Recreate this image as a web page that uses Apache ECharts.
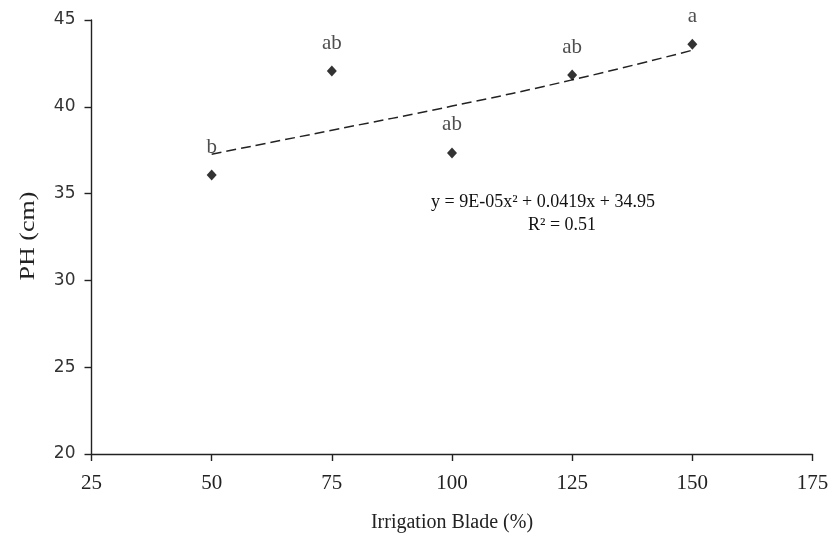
<!DOCTYPE html>
<html>
<head>
<meta charset="utf-8">
<script src="https://cdn.jsdelivr.net/npm/echarts@6/dist/echarts.min.js"></script>
<style>
html,body{margin:0;padding:0;background:#fff;}
#chart{width:832px;height:539px;}
</style>
</head>
<body>
<div id="chart"></div>
<script>
// Data
var irrigation = [50, 75, 100, 125, 150];
var plantHeight = [36.07, 42.06, 37.34, 41.83, 43.6];
var groupLetters = ['b', 'ab', 'ab', 'ab', 'a'];
// Trend line values (as drawn in the picture)
var trendX = [50, 75, 100, 125, 150];
var trendY = [37.27, 38.65, 40.04, 41.55, 43.26];
var xTicks = [25, 50, 75, 100, 125, 150, 175];
var yTicks = [20, 25, 30, 35, 40, 45];
var xTitle = 'Irrigation Blade (%)';
var yTitle = 'PH (cm)';
var equationText = 'y = 9E-05x² + 0.0419x + 34.95';
var r2Text = 'R² = 0.51';

var SERIF = '"Liberation Serif", "Times New Roman", serif';
var SANS = '"DejaVu Sans", "Noto Sans", sans-serif';
var chart = echarts.init(document.getElementById('chart'));

var scatterData = irrigation.map(function (x, i) { return [x, plantHeight[i]]; });
var trendData = trendX.map(function (x, i) { return [x, trendY[i]]; });

var axisCommon = {
  axisLine: { show: true, lineStyle: { color: '#222', width: 1.4 } },
  axisTick: { show: true, length: 7, inside: false, lineStyle: { color: '#222', width: 1.4 } },
  splitLine: { show: false }
};

chart.setOption({
  animation: false,
  backgroundColor: '#fff',
  grid: { left: 91.5, right: 19.5, top: 20, bottom: 85, containLabel: false },
  xAxis: Object.assign({}, axisCommon, {
    type: 'value',
    min: xTicks[0], max: xTicks[xTicks.length - 1], interval: 25,
    name: xTitle,
    nameLocation: 'middle', nameGap: 59,
    nameTextStyle: { fontFamily: SERIF, fontSize: 20, color: '#222' },
    axisLabel: { fontFamily: SERIF, fontSize: 21, color: '#222', margin: 19 }
  }),
  yAxis: Object.assign({}, axisCommon, {
    type: 'value',
    min: yTicks[0], max: yTicks[yTicks.length - 1], interval: 5,
    axisLabel: { fontFamily: SANS, fontSize: 17, color: '#333', margin: 16 }
  }),
  series: [
    {
      type: 'line',
      data: trendData,
      smooth: true,
      showSymbol: false,
      symbol: 'none',
      lineStyle: { color: '#222', width: 1.5, type: [10, 5] },
      z: 2
    },
    {
      type: 'scatter',
      data: scatterData,
      symbol: 'diamond',
      symbolSize: [10, 11],
      itemStyle: { color: '#000' },
      label: {
        show: true,
        position: 'top',
        distance: 12,
        fontFamily: SERIF,
        fontSize: 21,
        color: '#222',
        formatter: function (p) { return groupLetters[p.dataIndex]; }
      },
      z: 3
    }
  ],
  graphic: [
    {
      type: 'text', x: 29, y: 236, rotation: Math.PI / 2, scaleX: 1.3,
      style: { text: yTitle, fontFamily: SERIF, fontSize: 20, fill: '#222', align: 'center', verticalAlign: 'middle' }
    },
    {
      type: 'text', x: 543, y: 202,
      style: { text: equationText, fontFamily: SERIF, fontSize: 18, fill: '#111', align: 'center', verticalAlign: 'middle' }
    },
    {
      type: 'text', x: 562, y: 225,
      style: { text: r2Text, fontFamily: SERIF, fontSize: 18, fill: '#111', align: 'center', verticalAlign: 'middle' }
    }
  ]
});
</script>
</body>
</html>
